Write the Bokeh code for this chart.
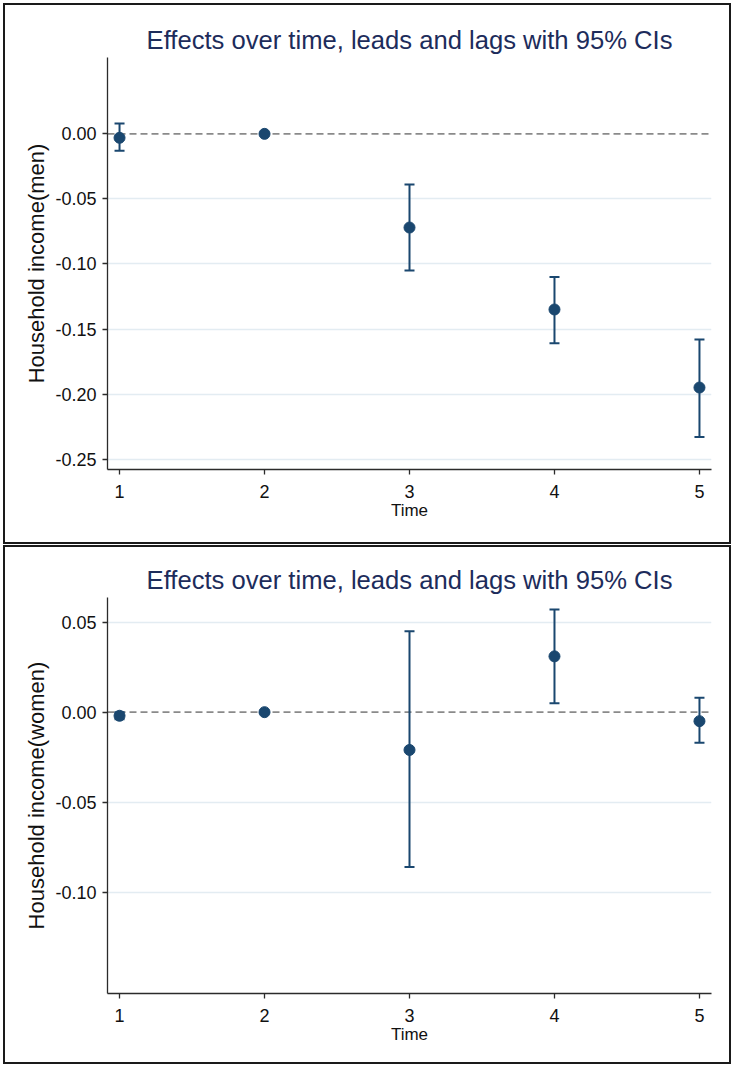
from bokeh.plotting import figure
from bokeh.layouts import column
from bokeh.models import FixedTicker, NumeralTickFormatter, Span, ColumnDataSource
from bokeh.embed import file_html
from bokeh.resources import INLINE

# Event-study estimates (coefficient and 95% CI bounds) by period
time = [1, 2, 3, 4, 5]

men_coef = [-0.003, 0.0, -0.072, -0.135, -0.195]
men_lo = [-0.013, 0.0, -0.105, -0.161, -0.233]
men_hi = [0.008, 0.0, -0.039, -0.110, -0.158]

women_coef = [-0.002, 0.0, -0.021, 0.031, -0.005]
women_lo = [-0.004, 0.0, -0.086, 0.005, -0.017]
women_hi = [0.000, 0.0, 0.045, 0.057, 0.008]

men_yticks = [0.0, -0.05, -0.10, -0.15, -0.20, -0.25]
women_yticks = [0.05, 0.0, -0.05, -0.10]

TITLE = "Effects over time, leads and lags with 95% CIs"
FONT = "Liberation Sans"
NAVY = "#1a476f"
TITLE_COLOR = "#1d2c5b"
GRID = "#e3ecf2"
AXIS = "#2b2b2b"


def panel(coef, lo, hi, yticks, yrange, ylabel, height, top, bottom):
    p = figure(
        width=728, height=height,
        x_range=(0.917, 5.083), y_range=yrange,
        output_backend="svg", toolbar_location=None,
        min_border_left=102, min_border_right=22,
        min_border_top=top, min_border_bottom=bottom,
        title=TITLE,
    )
    # framed panel
    p.styles = {"border": "2px solid #1a1a1a"}
    p.outline_line_color = None
    p.background_fill_color = "white"
    p.border_fill_color = "white"

    p.title.text_font = FONT
    p.title.text_font_size = "25.6px"
    p.title.text_font_style = "normal"
    p.title.text_color = TITLE_COLOR
    p.title.align = "center"
    p.title.standoff = 7

    # axes
    for ax in (p.xaxis[0], p.yaxis[0]):
        ax.axis_line_color = AXIS
        ax.axis_line_width = 1.3
        ax.major_tick_line_color = AXIS
        ax.major_tick_line_width = 1.3
        ax.major_tick_out = 5
        ax.major_tick_in = 0
        ax.minor_tick_line_color = None
        ax.major_label_text_font = FONT
        ax.major_label_text_font_size = "18px"
        ax.major_label_text_color = "#111111"
        ax.axis_label_text_font = FONT
        ax.axis_label_text_font_style = "normal"
        ax.axis_label_text_color = "#111111"

    p.xaxis.ticker = FixedTicker(ticks=time)
    p.xaxis.axis_label = "Time"
    p.xaxis.axis_label_text_font_size = "17px"
    p.xaxis.major_label_standoff = 10
    p.xaxis.axis_label_standoff = 0

    p.yaxis.ticker = FixedTicker(ticks=yticks)
    p.yaxis.formatter = NumeralTickFormatter(format="0.00")
    p.yaxis.axis_label = ylabel
    p.yaxis.axis_label_text_font_size = "22px"
    p.yaxis.major_label_standoff = 6
    p.yaxis.axis_label_standoff = 3

    p.xgrid.grid_line_color = None
    p.ygrid.ticker = FixedTicker(ticks=[t for t in yticks if t != 0])
    p.ygrid.grid_line_color = GRID
    p.ygrid.grid_line_width = 1.5

    zero = Span(location=0, dimension="width", line_color="#8a8a8a",
                line_width=1.8, line_dash="7 4", level="underlay")
    p.add_layout(zero)

    src = ColumnDataSource(dict(t=time, coef=coef, lo=lo, hi=hi))
    p.segment(x0="t", y0="lo", x1="t", y1="hi", source=src,
              line_color=NAVY, line_width=2)
    p.scatter(x="t", y="lo", source=src, marker="dash", size=10,
              line_color=NAVY, line_width=2)
    p.scatter(x="t", y="hi", source=src, marker="dash", size=10,
              line_color=NAVY, line_width=2)
    p.scatter(x="t", y="coef", source=src, marker="circle", size=11,
              fill_color=NAVY, line_color=NAVY)
    return p


p1 = panel(men_coef, men_lo, men_hi, men_yticks, (-0.258, 0.0587),
           "Household income(men)", 541, 52, 77)
p2 = panel(women_coef, women_lo, women_hi, women_yticks, (-0.1563, 0.0637),
           "Household income(women)", 519, 50, 73)

layout = column(p1, p2, spacing=1)
layout.styles = {"margin-left": "3px", "margin-top": "3px"}

open("out.html", "w").write(file_html(layout, INLINE))
